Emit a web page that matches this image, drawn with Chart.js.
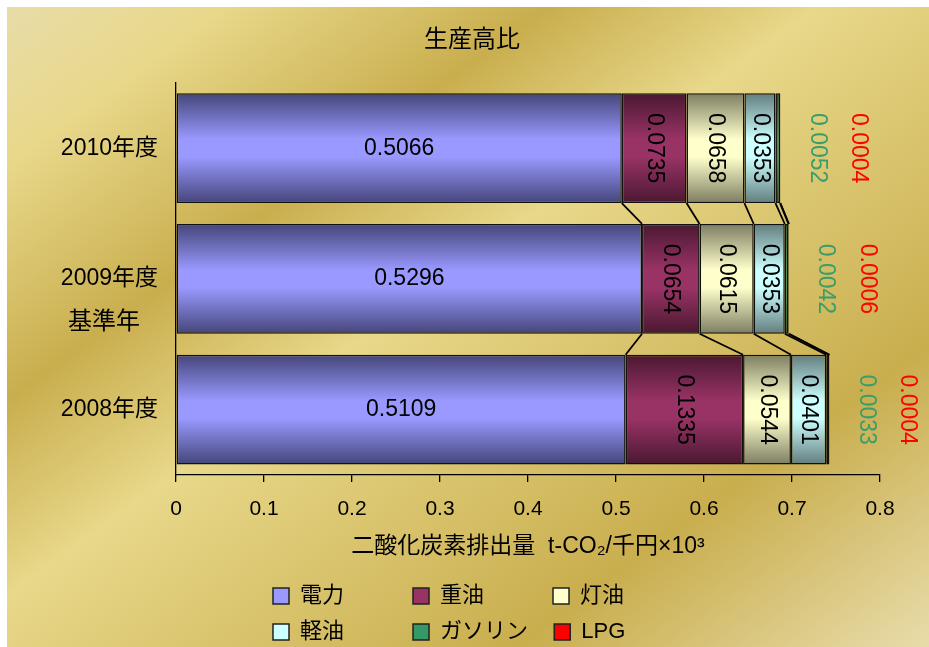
<!DOCTYPE html>
<html>
<head>
<meta charset="utf-8">
<script src="https://cdn.jsdelivr.net/npm/chart.js@4.4.1/dist/chart.umd.min.js"></script>
<style>
    html, body { margin: 0; padding: 0; background: #ffffff; }
    #wrap {
        position: absolute; left: 7px; top: 7px; width: 922px; height: 640px;
        background: linear-gradient(144deg, #e8dca8 0%, #e8d88a 12%, #c9ae4e 30%, #e8d88a 45%, #c9ae4e 77%, #e8dcaa 100%);
    }
</style>
</head>
<body>
<div id="wrap"><canvas id="chart" width="922" height="640"></canvas></div>
<script>
const categories = ['2010年度', '2009年度', '2008年度'];
const seriesNames = ['電力', '重油', '灯油', '軽油', 'ガソリン', 'LPG'];
const denryoku = [0.5066, 0.5296, 0.5109];
const juyu = [0.0735, 0.0654, 0.1335];
const touyu = [0.0658, 0.0615, 0.0544];
const keiyu = [0.0353, 0.0353, 0.0401];
const gasoline = [0.0052, 0.0042, 0.0033];
const lpg = [0.0004, 0.0006, 0.0004];
const xTicks = [0, 0.1, 0.2, 0.3, 0.4, 0.5, 0.6, 0.7, 0.8];

const fontFamily = '"Liberation Sans", "Noto Sans CJK JP", sans-serif';
Chart.defaults.font.family = fontFamily;
Chart.defaults.color = '#000';

// light / dark colours for the cylinder look
const colors = [
    ['#9999ff', '#45457a'],
    ['#993366', '#4a1830'],
    ['#ffffcc', '#7d7d62'],
    ['#ccffff', '#627d7d'],
    ['#339966', '#174a31'],
    ['#ff0000', '#7a0000']
];

function barFill(light, dark) {
    return function (ctx) {
        const chart = ctx.chart;
        const y = chart.scales.y;
        if (!chart.chartArea || ctx.dataIndex === undefined || !y) return light;
        const center = y.getPixelForValue(ctx.dataIndex);
        const half = Math.abs(y.getPixelForValue(1) - y.getPixelForValue(0)) * 0.84 / 2;
        const g = chart.ctx.createLinearGradient(0, center - half, 0, center + half);
        g.addColorStop(0, dark);
        g.addColorStop(0.42, light);
        g.addColorStop(0.58, light);
        g.addColorStop(1, dark);
        return g;
    };
}

const allData = [denryoku, juyu, touyu, keiyu, gasoline, lpg];
const datasets = allData.map(function (values, i) {
    return {
        label: seriesNames[i],
        data: values,
        backgroundColor: barFill(colors[i][0], colors[i][1]),
        borderColor: '#111',
        borderWidth: 1.5,
        borderSkipped: false,
        barPercentage: 0.84,
        categoryPercentage: 1
    };
});

// legend text padded so the columns line up like the original grid
const measureCtx = document.createElement('canvas').getContext('2d');
function padLabel(text, width) {
    measureCtx.font = '22px ' + fontFamily;
    let s = text;
    while (measureCtx.measureText(s + ' ').width <= width) s += ' ';
    return s;
}

const seriesLines = {
    id: 'seriesLines',
    afterDatasetsDraw(chart) {
        const ctx = chart.ctx;
        ctx.save();
        ctx.strokeStyle = '#000';
        ctx.lineWidth = 1.8;
        chart.data.datasets.forEach(function (ds, d) {
            const bars = chart.getDatasetMeta(d).data;
            for (let i = 0; i < bars.length - 1; i++) {
                const a = bars[i], b = bars[i + 1];
                ctx.beginPath();
                ctx.moveTo(a.x, a.y + a.height / 2);
                ctx.lineTo(b.x, b.y - b.height / 2);
                ctx.stroke();
            }
        });
        ctx.restore();
    }
};

const valueLabels = {
    id: 'valueLabels',
    afterDatasetsDraw(chart) {
        const ctx = chart.ctx;
        ctx.save();
        ctx.font = '23px ' + fontFamily;
        ctx.textAlign = 'center';
        ctx.textBaseline = 'middle';
        chart.data.datasets.forEach(function (ds, d) {
            chart.getDatasetMeta(d).data.forEach(function (bar, i) {
                const text = ds.data[i].toFixed(4);
                let cx = (bar.x + bar.base) / 2;
                ctx.fillStyle = '#000';
                if (d === 0) {
                    ctx.fillText(text, cx, bar.y);
                    return;
                }
                if (d === 4) { cx = bar.x + 37; ctx.fillStyle = '#3a9e6a'; }
                if (d === 5) { cx = bar.x + 78; ctx.fillStyle = '#ff0000'; }
                ctx.save();
                ctx.translate(cx, bar.y);
                ctx.rotate(Math.PI / 2);
                ctx.fillText(text, 0, 0);
                ctx.restore();
            });
        });
        // second line of the 2009 label
        const y = chart.scales.y;
        ctx.fillStyle = '#000';
        ctx.font = '24px ' + fontFamily;
        ctx.fillText('基準年', y.right - 72, y.getPixelForValue(1) + 43);
        ctx.restore();
    }
};

// legend in a 3-column grid, title centred on the whole picture
const boxPlacement = {
    id: 'boxPlacement',
    afterLayout(chart) {
        const lg = chart.legend;
        lg.left = 252;
        lg.right = 740;
        lg.top = 564;
        lg.bottom = 640;
        chart.titleBlock.left = 57;
    }
};

new Chart(document.getElementById('chart'), {
    type: 'bar',
    data: { labels: categories, datasets: datasets },
    plugins: [seriesLines, valueLabels, boxPlacement],
    options: {
        indexAxis: 'y',
        responsive: false,
        animation: false,
        devicePixelRatio: 1,
        layout: { padding: { left: 0, right: 49, top: 0, bottom: 41 } },
        scales: {
            x: {
                stacked: true,
                min: 0,
                max: 0.8,
                afterBuildTicks: function (scale) {
                    scale.ticks = xTicks.map(function (v) { return { value: v }; });
                },
                afterFit: function (scale) { scale.height = 85; },
                ticks: {
                    font: { size: 21 },
                    padding: 15,
                    callback: function (v) { return String(Math.round(v * 10) / 10); }
                },
                grid: { drawOnChartArea: false, drawTicks: true, tickLength: 7, color: '#000', lineWidth: 1.3 },
                border: { display: true, color: '#000', width: 1.3 },
                title: {
                    display: true,
                    text: '二酸化炭素排出量  t-CO₂/千円×10³',
                    font: { size: 23 },
                    padding: 0
                }
            },
            y: {
                stacked: true,
                afterFit: function (scale) { scale.width = 169; },
                ticks: { font: { size: 23 }, padding: 10 },
                grid: { display: false },
                border: { display: true, color: '#000', width: 1.3 }
            }
        },
        plugins: {
            title: {
                display: true,
                text: '生産高比',
                font: { size: 24, weight: 'normal' },
                color: '#000',
                padding: { top: 19, bottom: 28 }
            },
            legend: {
                position: 'bottom',
                align: 'start',
                labels: {
                    boxWidth: 16,
                    boxHeight: 16,
                    padding: 14,
                    font: { size: 22 },
                    generateLabels: function (chart) {
                        return seriesNames.map(function (name, i) {
                            return {
                                text: padLabel(name, 101),
                                fillStyle: colors[i][0],
                                strokeStyle: '#222',
                                lineWidth: 1.5,
                                datasetIndex: i,
                                hidden: false
                            };
                        });
                    }
                }
            },
            tooltip: { enabled: false }
        }
    }
});
</script>
</body>
</html>
